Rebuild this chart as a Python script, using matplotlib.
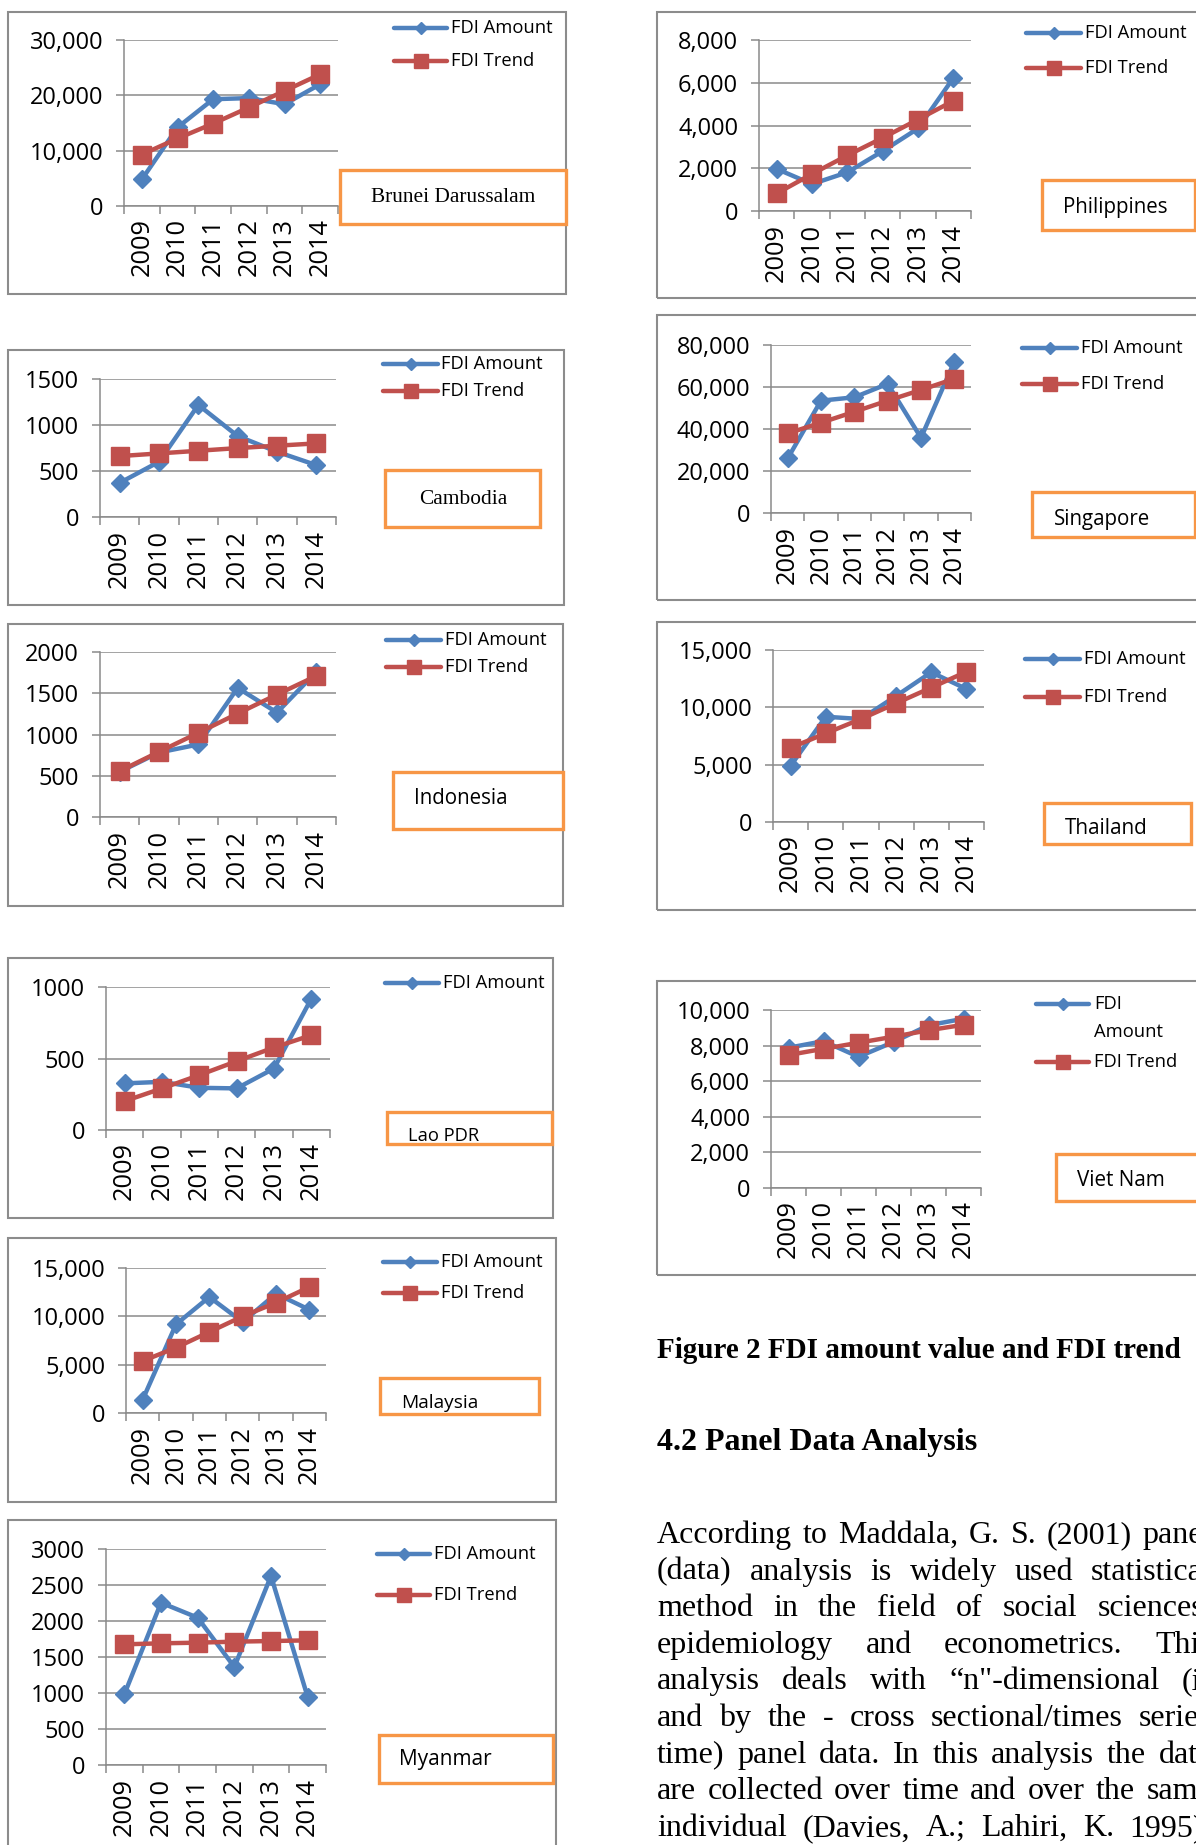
import matplotlib
matplotlib.use('Agg')
import matplotlib.pyplot as plt
from matplotlib.lines import Line2D
from matplotlib.patches import Rectangle
import numpy as np

W_PX, H_PX = 1196, 1845

YEARS = ['2009', '2010', '2011', '2012', '2013', '2014']

brunei_amount = [4800, 14200, 19300, 19500, 18400, 22000]
brunei_trend = [9300, 12200, 14900, 17800, 20800, 23800]
brunei_ticks = [0, 10000, 20000, 30000]

philippines_amount = [1970, 1260, 1810, 2800, 3860, 6220]
philippines_trend = [820, 1730, 2600, 3420, 4280, 5150]
philippines_ticks = [0, 2000, 4000, 6000, 8000]

cambodia_amount = [371, 600, 1218, 880, 709, 564]
cambodia_trend = [662, 691, 720, 749, 775, 800]
cambodia_ticks = [0, 500, 1000, 1500]

singapore_amount = [26000, 53500, 55100, 61500, 35800, 72100]
singapore_trend = [37900, 43000, 48200, 53500, 58600, 63900]
singapore_ticks = [0, 20000, 40000, 60000, 80000]

indonesia_amount = [548, 782, 879, 1565, 1266, 1760]
indonesia_trend = [556, 790, 1020, 1254, 1484, 1710]
indonesia_ticks = [0, 500, 1000, 1500, 2000]

thailand_amount = [4900, 9180, 8980, 10990, 13060, 11600]
thailand_trend = [6470, 7730, 8980, 10350, 11720, 13100]
thailand_ticks = [0, 5000, 10000, 15000]

lao_amount = [326, 337, 295, 291, 430, 919]
lao_trend = [202, 291, 384, 481, 577, 663]
lao_ticks = [0, 500, 1000]

vietnam_amount = [7880, 8250, 7370, 8200, 9140, 9510]
vietnam_trend = [7470, 7820, 8160, 8500, 8860, 9170]
vietnam_ticks = [0, 2000, 4000, 6000, 8000, 10000]

malaysia_amount = [1380, 9170, 12000, 9410, 12340, 10690]
malaysia_trend = [5380, 6760, 8380, 10000, 11410, 13030]
malaysia_ticks = [0, 5000, 10000, 15000]

myanmar_amount = [981, 2254, 2046, 1361, 2625, 944]
myanmar_trend = [1676, 1690, 1699, 1713, 1722, 1731]
myanmar_ticks = [0, 500, 1000, 1500, 2000, 2500, 3000]

CAPTION = 'Figure 2 FDI amount value and FDI trend'
HEADING = '4.2 Panel Data Analysis'
PARAGRAPH = [
    'According to Maddala, G. S. (2001) panel',
    '(data) analysis is widely used statistical',
    'method in the field of social sciences,',
    'epidemiology and econometrics. This',
    'analysis deals with \u201cn"-dimensional (i)',
    'and by the - cross sectional/times series',
    'time) panel data. In this analysis the data',
    'are collected over time and over the same',
    'individual (Davies, A.; Lahiri, K. 1995).',
]

BLUE = '#4F81BD'
RED = '#C0504D'
ORANGE = '#F79646'
GRID = '#8A8A8A'
FRAME = '#8C8C8C'
SANS = 'Open Sans'
SERIF = 'Liberation Serif'

# pixel layout of each small chart: outer frame, plot area, legend rows, name box
panels = [
    dict(name='Brunei Darussalam', amount=brunei_amount, trend=brunei_trend, ticks=brunei_ticks, comma=True,
         frame=(8, 12, 566, 294), axes=(124, 40, 338, 206),
         leg_x=(394, 447, 451), leg=[(28, 'FDI Amount', 'a'), (61, 'FDI Trend', 't')],
         box=(340, 170, 566, 224), label=(453, 197, 'center', SERIF, 15.4)),
    dict(name='Philippines', amount=philippines_amount, trend=philippines_trend, ticks=philippines_ticks, comma=True,
         frame=(657, 12, 1240, 298), axes=(759, 40, 971, 211),
         leg_x=(1026, 1081, 1085), leg=[(33, 'FDI Amount', 'a'), (68, 'FDI Trend', 't')],
         box=(1042, 180, 1195, 230), label=(1063, 207, 'left', SANS, 14.8)),
    dict(name='Cambodia', amount=cambodia_amount, trend=cambodia_trend, ticks=cambodia_ticks, comma=False,
         frame=(8, 350, 564, 605), axes=(100, 379, 336, 517),
         leg_x=(383, 438, 441), leg=[(364, 'FDI Amount', 'a'), (391, 'FDI Trend', 't')],
         box=(385, 470, 540, 527), label=(463, 499, 'center', SERIF, 15.4)),
    dict(name='Singapore', amount=singapore_amount, trend=singapore_trend, ticks=singapore_ticks, comma=True,
         frame=(657, 315, 1240, 600), axes=(771, 345, 971, 513),
         leg_x=(1022, 1077, 1081), leg=[(348, 'FDI Amount', 'a'), (384, 'FDI Trend', 't')],
         box=(1032, 492, 1195, 537), label=(1054, 520, 'left', SANS, 14.8)),
    dict(name='Indonesia', amount=indonesia_amount, trend=indonesia_trend, ticks=indonesia_ticks, comma=False,
         frame=(8, 624, 563, 906), axes=(100, 652, 336, 817),
         leg_x=(386, 441, 445), leg=[(640, 'FDI Amount', 'a'), (667, 'FDI Trend', 't')],
         box=(393, 772, 563, 829), label=(414, 798, 'left', SANS, 14.8)),
    dict(name='Thailand', amount=thailand_amount, trend=thailand_trend, ticks=thailand_ticks, comma=True,
         frame=(657, 622, 1240, 910), axes=(773, 650, 984, 822),
         leg_x=(1025, 1080, 1084), leg=[(659, 'FDI Amount', 'a'), (697, 'FDI Trend', 't')],
         box=(1044, 803, 1191, 844), label=(1065, 829, 'left', SANS, 14.9)),
    dict(name='Lao PDR', amount=lao_amount, trend=lao_trend, ticks=lao_ticks, comma=False,
         frame=(8, 958, 553, 1218), axes=(106, 987, 330, 1130),
         leg_x=(385, 439, 443), leg=[(983, 'FDI Amount', 'a')],
         box=(387, 1112, 552, 1144), label=(408, 1136, 'left', SANS, 13.2)),
    dict(name='Viet Nam', amount=vietnam_amount, trend=vietnam_trend, ticks=vietnam_ticks, comma=True,
         frame=(657, 981, 1240, 1275), axes=(771, 1010, 981, 1188),
         leg_x=(1036, 1089, 1094), leg=[(1004, 'FDI', 'a'), (1032, 'Amount', None), (1062, 'FDI Trend', 't')],
         box=(1056, 1154, 1240, 1201), label=(1077, 1180, 'left', SANS, 14.9)),
    dict(name='Malaysia', amount=malaysia_amount, trend=malaysia_trend, ticks=malaysia_ticks, comma=True,
         frame=(8, 1238, 556, 1502), axes=(126, 1268, 326, 1413),
         leg_x=(383, 437, 441), leg=[(1262, 'FDI Amount', 'a'), (1293, 'FDI Trend', 't')],
         box=(380, 1378, 539, 1414), label=(401, 1403, 'left', SANS, 13.8)),
    dict(name='Myanmar', amount=myanmar_amount, trend=myanmar_trend, ticks=myanmar_ticks, comma=False,
         frame=(8, 1520, 556, 1880), axes=(106, 1549, 326, 1765),
         leg_x=(377, 430, 434), leg=[(1554, 'FDI Amount', 'a'), (1595, 'FDI Trend', 't')],
         box=(379, 1735, 553, 1783), label=(399, 1760, 'left', SANS, 15.0)),
]


def fx(px):
    return px / W_PX


def fy(py):
    return 1 - py / H_PX


def add_rect(fig, l, t, r, b, **kw):
    fig.add_artist(Rectangle((fx(l), fy(b)), fx(r - l), (b - t) / H_PX,
                             transform=fig.transFigure, **kw))


def draw_panel(fig, p):
    add_rect(fig, *p['frame'], fill=False, ec=FRAME, lw=1.5, zorder=1)

    l, t, r, b = p['axes']
    ax = fig.add_axes([fx(l), fy(b), fx(r - l), (b - t) / H_PX])
    ax.patch.set_visible(False)
    x = np.arange(len(YEARS))
    ax.plot(x, p['amount'], color=BLUE, lw=3.2, marker='D', ms=9,
            mec=BLUE, clip_on=False, zorder=3)
    ax.plot(x, p['trend'], color=RED, lw=3.2, marker='s', ms=13.5,
            mec=RED, clip_on=False, zorder=4)

    ticks = p['ticks']
    ax.set_xlim(-0.5, len(YEARS) - 0.5)
    ax.set_ylim(0, ticks[-1])
    ax.set_yticks(ticks)
    fmt = '{:,}' if p['comma'] else '{}'
    ax.set_yticklabels([fmt.format(v) for v in ticks], fontsize=17, family=SANS)
    ax.set_xticks(np.arange(-0.5, len(YEARS), 1))
    ax.set_xticklabels([])
    ax.set_xticks(x, minor=True)
    ax.set_xticklabels(YEARS, minor=True, rotation=90, fontsize=18.3, family=SANS)
    ax.tick_params(axis='x', which='minor', length=0, pad=9)
    ax.tick_params(axis='x', which='major', length=6, width=1.1, color=GRID)
    ax.tick_params(axis='y', length=6, width=1.1, color=GRID, pad=9)
    ax.yaxis.grid(True, color=GRID, lw=1.1)
    ax.set_axisbelow(True)
    for side in ('top', 'right'):
        ax.spines[side].set_visible(False)
    for side in ('left', 'bottom'):
        ax.spines[side].set_color(GRID)
        ax.spines[side].set_linewidth(1.1)

    # legend drawn by hand so each chart keeps its own spacing
    x0, x1, tx = p['leg_x']
    for yy, text, kind in p['leg']:
        if kind is not None:
            color = BLUE if kind == 'a' else RED
            marker, ms = ('D', 6.5) if kind == 'a' else ('s', 10)
            fig.add_artist(Line2D([fx(x0), fx(x1)], [fy(yy), fy(yy)], transform=fig.transFigure,
                                  color=color, lw=3.2, solid_capstyle='round'))
            fig.add_artist(Line2D([fx((x0 + x1) / 2)], [fy(yy)], transform=fig.transFigure,
                                  color=color, marker=marker, ms=ms, mec=color))
        fig.text(fx(tx), fy(yy), text, fontsize=13.2, family=SANS, va='center', ha='left')

    add_rect(fig, *p['box'], fc='white', ec=ORANGE, lw=2.4, zorder=2)
    lx, ly, ha, family, size = p['label']
    fig.text(fx(lx), fy(ly), p['name'], fontsize=size, family=family,
             ha=ha, va='center', zorder=3)


def justify(fig, renderer, line, y_px, x_left, x_right, **kw):
    words = line.split(' ')
    texts = [fig.text(0, fy(y_px), w, va='baseline', ha='left', **kw) for w in words]
    widths = [t.get_window_extent(renderer).width for t in texts]
    gap = (x_right - x_left - sum(widths)) / max(len(words) - 1, 1)
    pos = x_left
    for t, w in zip(texts, widths):
        t.set_x(fx(pos))
        pos += w + gap


def main():
    fig = plt.figure(figsize=(W_PX / 100, H_PX / 100), dpi=100)
    fig.patch.set_facecolor('white')
    for p in panels:
        draw_panel(fig, p)

    fig.text(fx(657), fy(1358), CAPTION, fontsize=21, family=SERIF,
             weight='bold', va='baseline')
    fig.text(fx(657), fy(1450), HEADING, fontsize=23, family=SERIF,
             weight='bold', va='baseline')

    renderer = fig.canvas.get_renderer()
    for i, line in enumerate(PARAGRAPH):
        justify(fig, renderer, line, 1543 + 36.6 * i, 657, 1212,
                fontsize=23, family=SERIF)

    fig.savefig('out.png', dpi=100)


if __name__ == '__main__':
    main()
